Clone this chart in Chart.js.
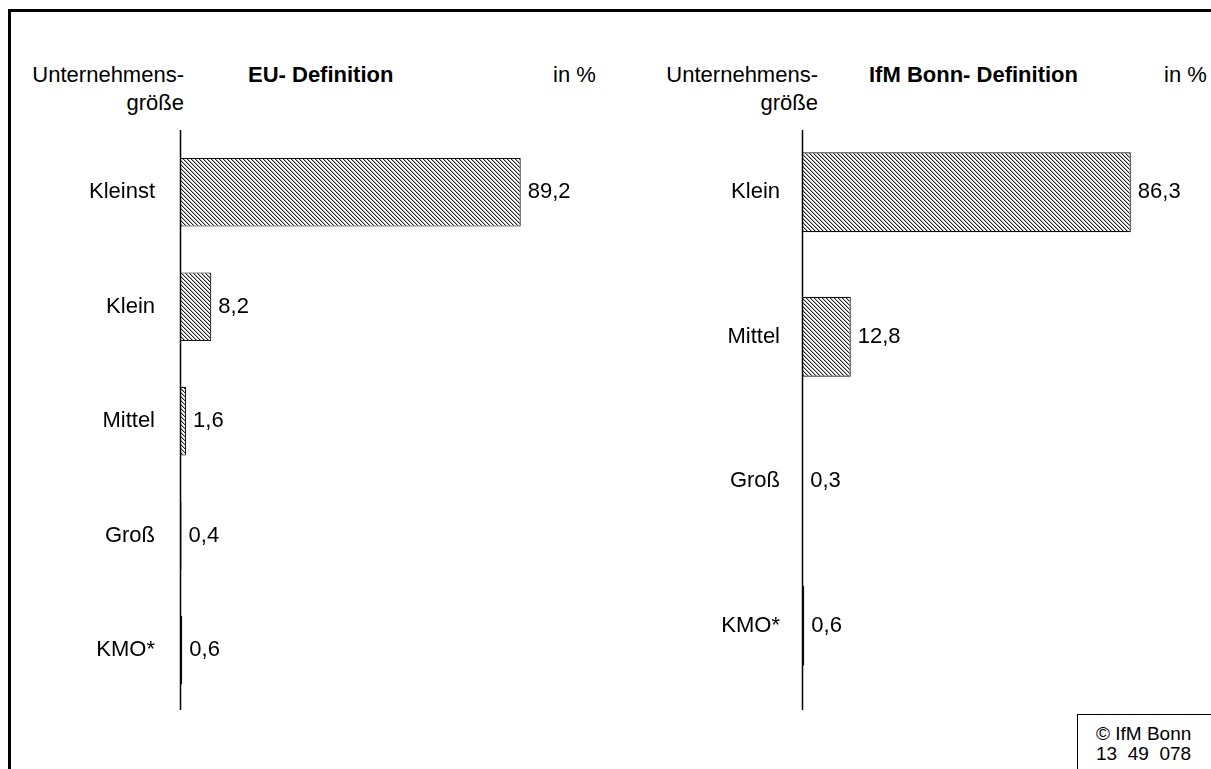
<!DOCTYPE html>
<html>
<head>
<meta charset="utf-8">
<script src="https://cdn.jsdelivr.net/npm/chart.js@4/dist/chart.umd.min.js"></script>
<style>
  html, body { margin: 0; padding: 0; background: #fff; width: 1211px; height: 769px; overflow: hidden; }
  body { position: relative; font-family: "Liberation Sans", Arial, sans-serif; color: #000; }
  .frame { position: absolute; left: 8px; top: 9px; width: 1400px; height: 1000px; border-left: 3px solid #000; border-top: 3px solid #000; }
  .t { position: absolute; font-size: 22px; white-space: pre; line-height: 28px; }
  .r { text-align: right; }
  .b { font-weight: bold; }
  .copy { position: absolute; left: 1077px; top: 714px; width: 300px; height: 200px; border-left: 1.5px solid #000; border-top: 1.5px solid #000; }
  .copy div { position: absolute; left: 18px; font-size: 19px; white-space: pre; line-height: 20px; }
  canvas { position: absolute; top: 0; }
</style>
</head>
<body>
<div class="frame"></div>

<div class="t r" style="left:0; width:184px; top:61px;">Unternehmens-</div>
<div class="t r" style="left:0; width:184px; top:89px;">größe</div>
<div class="t b" style="left:248px; top:61px;">EU- Definition</div>
<div class="t" style="left:553px; top:61px;">in %</div>

<div class="t r" style="left:600px; width:218px; top:61px;">Unternehmens-</div>
<div class="t r" style="left:600px; width:218px; top:89px;">größe</div>
<div class="t b" style="left:869px; top:61px;">IfM Bonn- Definition</div>
<div class="t" style="left:1164px; top:61px;">in %</div>

<div class="copy">
  <div style="top:9px;">© IfM Bonn</div>
  <div style="top:29px;">13  49  078</div>
</div>

<canvas id="c1" width="600" height="769" style="left:0;"></canvas>
<canvas id="c2" width="611" height="769" style="left:600px;"></canvas>

<script>
// ---- data ----
const euCategories = ['Kleinst', 'Klein', 'Mittel', 'Groß', 'KMO*'];
const euValues = [89.2, 8.2, 1.6, 0.4, 0.6];
const ifmCategories = ['Klein', 'Mittel', 'Groß', 'KMO*'];
const ifmValues = [86.3, 12.8, 0.3, 0.6];
const axisMax = 100;

const FONT = '"Liberation Sans", Arial, sans-serif';

function hatch() {
  const c = document.createElement('canvas');
  c.width = 4; c.height = 4;
  const x = c.getContext('2d');
  x.fillStyle = '#ffffff';
  x.fillRect(0, 0, 4, 4);
  for (let i = 0; i < 4; i++) {
    x.fillStyle = '#222222';
    x.fillRect(i, i, 1, 1);
    x.fillStyle = '#b0b0b0';
    x.fillRect((i + 1) % 4, i, 1, 1);
  }
  return x.createPattern(c, 'repeat');
}

const valueLabels = {
  id: 'valueLabels',
  afterDatasetsDraw(chart) {
    const ctx = chart.ctx;
    ctx.save();
    ctx.font = '22px ' + FONT;
    ctx.fillStyle = '#000';
    ctx.textBaseline = 'middle';
    ctx.textAlign = 'left';
    const meta = chart.getDatasetMeta(0);
    const data = chart.data.datasets[0].data;
    meta.data.forEach((bar, i) => {
      const txt = data[i].toFixed(1).replace('.', ',');
      ctx.fillText(txt, bar.x + 7, bar.y);
    });
    ctx.restore();
  }
};

const axisLine = {
  id: 'axisLine',
  afterDatasetsDraw(chart, args, opts) {
    const ctx = chart.ctx;
    const x = Math.round(chart.chartArea.left) + 0.5;
    ctx.save();
    ctx.strokeStyle = '#000';
    ctx.lineWidth = 1.5;
    ctx.beginPath();
    ctx.moveTo(x, opts.top);
    ctx.lineTo(x, opts.bottom);
    ctx.stroke();
    ctx.restore();
  }
};

function makeChart(id, cats, vals, cfg) {
  return new Chart(document.getElementById(id), {
    type: 'bar',
    data: {
      labels: cats,
      datasets: [{
        data: vals,
        backgroundColor: hatch(),
        borderColor: '#111',
        borderWidth: 1.2,
        borderSkipped: false,
        categoryPercentage: 1,
        barPercentage: cfg.barPct
      }]
    },
    options: {
      indexAxis: 'y',
      responsive: false,
      devicePixelRatio: 1,
      animation: false,
      layout: { padding: cfg.padding },
      plugins: {
        legend: { display: false },
        tooltip: { enabled: false },
        axisLine: { top: cfg.axisTop, bottom: cfg.axisBottom }
      },
      scales: {
        x: { display: false, min: 0, max: axisMax },
        y: {
          afterFit(scale) { scale.width = cfg.yWidth; },
          grid: { display: false, drawTicks: false },
          border: { display: false },
          ticks: {
            color: '#000',
            padding: cfg.tickPad,
            font: { family: FONT, size: 22 }
          }
        }
      }
    },
    plugins: [valueLabels, axisLine]
  });
}

makeChart('c1', euCategories, euValues, {
  barPct: 0.6,
  padding: { left: 10, top: 135, bottom: 61.5, right: 38 },
  yWidth: 170, tickPad: 25, axisTop: 130, axisBottom: 710
});
makeChart('c2', ifmCategories, ifmValues, {
  barPct: 0.553,
  padding: { left: 10, top: 120, bottom: 71, right: 28 },
  yWidth: 192, tickPad: 22, axisTop: 130, axisBottom: 710
});
</script>
</body>
</html>
